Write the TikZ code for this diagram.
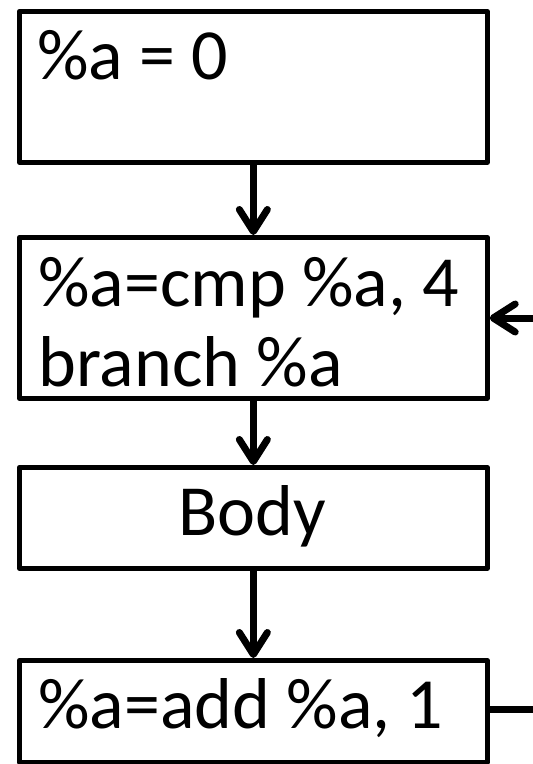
\documentclass[tikz,border=0pt]{standalone}
\usepackage{fontspec}
\setmainfont{Carlito}
\usetikzlibrary{arrows.meta}
\begin{document}
\begin{tikzpicture}[x=1pt, y=-1pt, line width=4.7pt, line join=round,
	block/.style = { draw, rectangle, inner sep=0pt, minimum width=468pt, anchor=north west },
	code/.style = { inner sep=0pt, anchor=base west, font=\fontsize{72}{80}\selectfont },
	link/.style = { draw, line width=7pt },
	flow/.style = { link, -{Straight Barb[round, length=22pt, width=28pt]} }]
	\useasboundingbox (0,0) rectangle (533,764);
	\node [block, minimum height=151pt] (init) at (17,9) {};
	\node [block, minimum height=161pt] (cond) at (17,235) {};
	\node [block, minimum height=101pt] (body) at (17,465) {};
	\node [block, minimum height=102pt] (incr) at (17,658) {};
	\node [code] (initcode) at (35,79) { \%a = 0 };
	\node [code] (condcode) at (36,306) { \%a=cmp \%a, 4 };
	\node [code] (branchcode) at (36,386) { branch \%a };
	\node [code, anchor=base] (bodycode) at (252,535) { Body };
	\node [code] (incrcode) at (36,728) { \%a=add \%a, 1 };
	\draw [flow] (init.south) -- (cond.north);
	\draw [flow] (cond.south) -- (body.north);
	\draw [flow] (body.south) -- (incr.north);
	\coordinate (loopout) at (533,709);
	\coordinate (loopin) at (533,318);
	\draw [link] (incr.east |- loopout) -- (loopout);
	\draw [flow] (loopin) -- (loopin -| cond.east);
\end{tikzpicture}
\end{document}
